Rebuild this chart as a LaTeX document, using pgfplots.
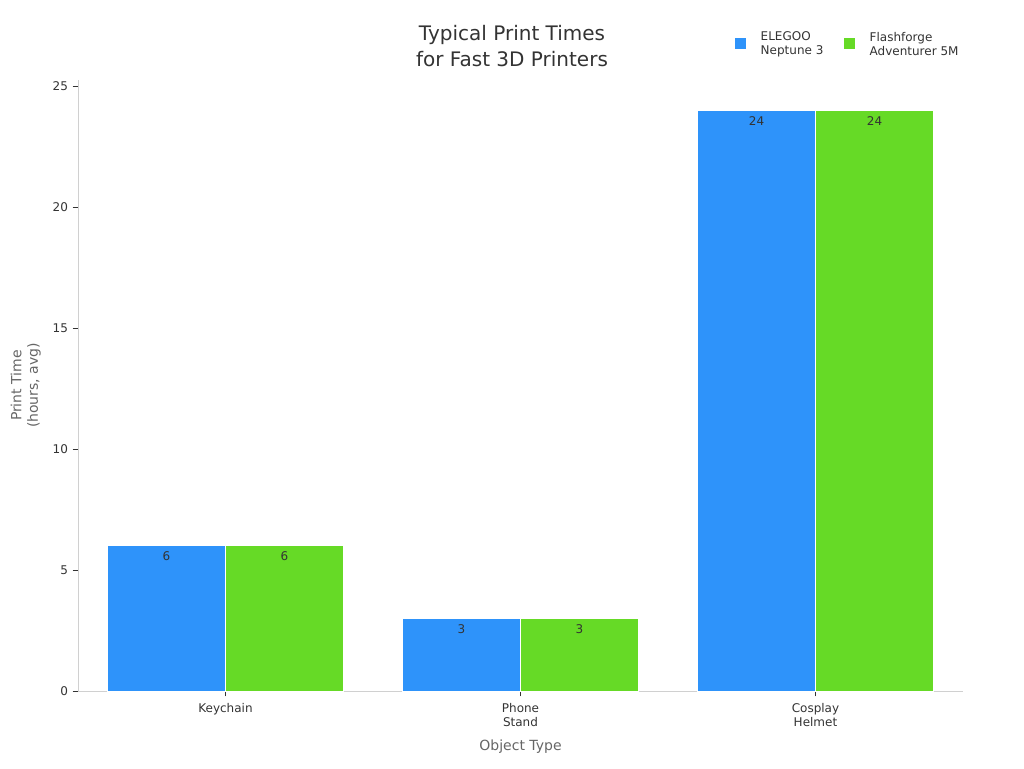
\documentclass[border=0pt]{standalone}
\usepackage{fontspec}
\setmainfont{DejaVu Sans}
\usepackage{pgfplots}
\pgfplotsset{compat=1.18}
\definecolor{cblue}{HTML}{2E93FA}
\definecolor{cgreen}{HTML}{66DA26}
\definecolor{axgray}{HTML}{D0D0D0}
\definecolor{labgray}{HTML}{666666}
\definecolor{txt}{HTML}{333333}
\begin{document}
\begin{tikzpicture}[x=0.75pt,y=0.75pt]
\useasboundingbox (-78,-77) rectangle (946,691);
\begin{axis}[
  at={(0,0)}, anchor=south west,
  scale only axis,
  width=663.75pt, height=458.25pt,
  xmin=-0.5, xmax=2.5,
  ymin=0, ymax=25.25,
  axis x line*=bottom, axis y line*=left,
  axis line style={axgray, line width=0.6pt},
  xtick={0,1,2},
  xticklabels={Keychain, Phone\\Stand, Cosplay\\Helmet},
  xticklabel style={align=center, font=\fontsize{9}{11}\selectfont, text=txt, yshift=-1.5pt},
  ytick={0,5,10,15,20,25},
  yticklabel style={font=\fontsize{9}{11}\selectfont, text=txt},
  /pgf/number format/assume math mode=true,
  tick style={txt, line width=0.5pt},
  major tick length=4pt,
  tick align=outside,
  ybar=0pt,
  bar width=0.4,
  every node near coord/.append style={font=\fontsize{9}{11}\selectfont, text=txt, anchor=north, yshift=-1pt},
  nodes near coords,
  xlabel={Object Type},
  xlabel style={font=\fontsize{10.5}{12}\selectfont, text=labgray, yshift=-3pt},
  ylabel={Print Time\\(hours, avg)},
  ylabel style={font=\fontsize{10.5}{12.5}\selectfont, text=labgray, align=center, yshift=2pt},
  clip=false,
]
\addplot[fill=cblue, draw=white, line width=0.5pt, bar shift=-0.2] coordinates {(0,6) (1,3) (2,24)};
\addplot[fill=cgreen, draw=white, line width=0.5pt, bar shift=0.2] coordinates {(0,6) (1,3) (2,24)};
\end{axis}
\node[font=\fontsize{15}{19.5}\selectfont, text=txt, align=center] at (434,645) {Typical Print Times\\for Fast 3D Printers};
\fill[cblue] (662-5.5, 647-5.5) rectangle ++(11,11);
\node[anchor=west, align=left, font=\fontsize{9}{10.5}\selectfont, text=txt] at (678, 647) {ELEGOO\\Neptune 3};
\fill[cgreen] (771-5.5, 647-5.5) rectangle ++(11,11);
\node[anchor=west, align=left, font=\fontsize{9}{10.5}\selectfont, text=txt] at (787, 647) {Flashforge\\Adventurer 5M};
\end{tikzpicture}
\end{document}
